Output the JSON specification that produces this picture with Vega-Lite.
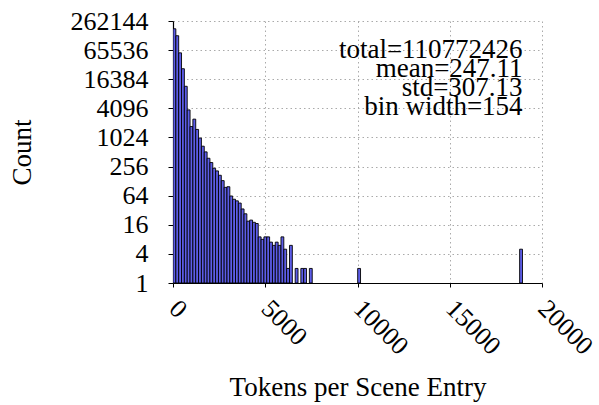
{
  "$schema": "https://vega.github.io/schema/vega-lite/v6.json",
  "width": 369,
  "height": 262,
  "autosize": {"type": "none"},
  "padding": {"left": 173, "top": 21, "right": 57, "bottom": 122},
  "background": "white",
  "config": {
    "font": "Liberation Serif",
    "view": {"stroke": null}
  },
  "datasets": {
    "hist": [
      {"bin_start": 0, "bin_end": 154, "count": 181000},
      {"bin_start": 154, "bin_end": 308, "count": 130000},
      {"bin_start": 308, "bin_end": 462, "count": 57500},
      {"bin_start": 462, "bin_end": 616, "count": 27000},
      {"bin_start": 616, "bin_end": 770, "count": 11700},
      {"bin_start": 770, "bin_end": 924, "count": 3800},
      {"bin_start": 924, "bin_end": 1078, "count": 1720},
      {"bin_start": 1078, "bin_end": 1232, "count": 2450},
      {"bin_start": 1232, "bin_end": 1386, "count": 1500},
      {"bin_start": 1386, "bin_end": 1540, "count": 995},
      {"bin_start": 1540, "bin_end": 1694, "count": 675},
      {"bin_start": 1694, "bin_end": 1848, "count": 515},
      {"bin_start": 1848, "bin_end": 2002, "count": 380},
      {"bin_start": 2002, "bin_end": 2156, "count": 310},
      {"bin_start": 2156, "bin_end": 2310, "count": 236},
      {"bin_start": 2310, "bin_end": 2464, "count": 208},
      {"bin_start": 2464, "bin_end": 2618, "count": 169},
      {"bin_start": 2618, "bin_end": 2772, "count": 131},
      {"bin_start": 2772, "bin_end": 2926, "count": 95},
      {"bin_start": 2926, "bin_end": 3080, "count": 98},
      {"bin_start": 3080, "bin_end": 3234, "count": 63},
      {"bin_start": 3234, "bin_end": 3388, "count": 54},
      {"bin_start": 3388, "bin_end": 3542, "count": 50},
      {"bin_start": 3542, "bin_end": 3696, "count": 45},
      {"bin_start": 3696, "bin_end": 3850, "count": 34},
      {"bin_start": 3850, "bin_end": 4004, "count": 27},
      {"bin_start": 4004, "bin_end": 4158, "count": 19},
      {"bin_start": 4158, "bin_end": 4312, "count": 20},
      {"bin_start": 4312, "bin_end": 4466, "count": 18},
      {"bin_start": 4466, "bin_end": 4620, "count": 17},
      {"bin_start": 4620, "bin_end": 4774, "count": 9},
      {"bin_start": 4774, "bin_end": 4928, "count": 8},
      {"bin_start": 4928, "bin_end": 5082, "count": 9},
      {"bin_start": 5082, "bin_end": 5236, "count": 9},
      {"bin_start": 5236, "bin_end": 5390, "count": 7},
      {"bin_start": 5390, "bin_end": 5544, "count": 6},
      {"bin_start": 5544, "bin_end": 5698, "count": 7},
      {"bin_start": 5698, "bin_end": 5852, "count": 6},
      {"bin_start": 5852, "bin_end": 6006, "count": 9},
      {"bin_start": 6006, "bin_end": 6160, "count": 5},
      {"bin_start": 6160, "bin_end": 6314, "count": 2},
      {"bin_start": 6314, "bin_end": 6468, "count": 6},
      {"bin_start": 6622, "bin_end": 6776, "count": 2},
      {"bin_start": 6930, "bin_end": 7084, "count": 2},
      {"bin_start": 7084, "bin_end": 7238, "count": 2},
      {"bin_start": 7392, "bin_end": 7546, "count": 2},
      {"bin_start": 10010, "bin_end": 10164, "count": 2},
      {"bin_start": 18788, "bin_end": 18942, "count": 5}
    ],
    "stats": [
      {"lines": ["total=110772426", "mean=247.11", "std=307.13", "bin width=154"]}
    ]
  },
  "layer": [
    {
      "data": {"name": "hist"},
      "mark": {"type": "bar", "fill": "#5d5de8", "stroke": "black", "strokeWidth": 0.9, "clip": true},
      "encoding": {
        "x": {
          "field": "bin_start",
          "type": "quantitative",
          "scale": {"domain": [0, 20000], "nice": false},
          "axis": {
            "title": "Tokens per Scene Entry",
            "values": [0, 5000, 10000, 15000, 20000],
            "format": "d",
            "labelAngle": 45,
            "labelAlign": "left",
            "labelBaseline": "middle",
            "labelPadding": 17,
            "labelFontSize": 26,
            "labelColor": "black",
            "labelFont": "Liberation Serif",
            "labelOverlap": false,
            "labelFlush": false,
            "tickSize": 4,
            "tickColor": "black",
            "tickWidth": 1,
            "domainColor": "black",
            "domainWidth": 1.2,
            "grid": true,
            "gridColor": "#aaaaaa",
            "gridDash": [1.5, 3],
            "gridWidth": 1,
            "titleFont": "Liberation Serif",
            "titleFontSize": 27,
            "titleFontWeight": "normal",
            "titleColor": "black",
            "titleBaseline": "alphabetic",
            "titleY": 112,
            "titleX": 184.5,
            "titleAlign": "center"
          }
        },
        "x2": {"field": "bin_end"},
        "y": {
          "field": "count",
          "type": "quantitative",
          "scale": {"type": "log", "base": 2, "domain": [1, 262144], "nice": false},
          "axis": {
            "title": "Count",
            "values": [1, 4, 16, 64, 256, 1024, 4096, 16384, 65536, 262144],
            "format": "d",
            "labelFontSize": 26,
            "labelColor": "black",
            "labelFont": "Liberation Serif",
            "labelPadding": 20,
            "labelOverlap": false,
            "labelFlush": false,
            "tickSize": 5,
            "tickColor": "black",
            "tickWidth": 1,
            "domainColor": "black",
            "domainWidth": 1.2,
            "grid": true,
            "gridColor": "#aaaaaa",
            "gridDash": [1.5, 3],
            "gridWidth": 1,
            "titleFont": "Liberation Serif",
            "titleFontSize": 27,
            "titleFontWeight": "normal",
            "titleColor": "black",
            "titleAngle": -90,
            "titleBaseline": "alphabetic",
            "titleAlign": "center",
            "titleX": -143,
            "titleY": 131
          }
        },
        "y2": {"datum": 1}
      }
    },
    {
      "data": {"name": "stats"},
      "mark": {
        "type": "text",
        "align": "right",
        "baseline": "alphabetic",
        "font": "Liberation Serif",
        "fontSize": 27,
        "lineHeight": 19,
        "color": "black"
      },
      "encoding": {
        "text": {"field": "lines"},
        "x": {"datum": 18950, "type": "quantitative"},
        "y": {"datum": 44000, "type": "quantitative"}
      }
    }
  ]
}
